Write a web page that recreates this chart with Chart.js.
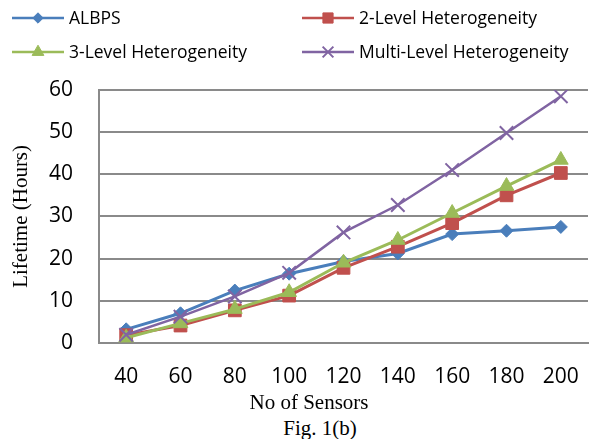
<!DOCTYPE html>
<html>
<head>
<meta charset="utf-8">
<script src="https://cdn.jsdelivr.net/npm/chart.js@4"></script>
<style>
  html, body { margin: 0; padding: 0; background: #fff; }
  #wrap { position: relative; width: 614px; height: 416px; }
  #legenda-fig { width: 588px; padding-left: 26px; height: 23px; line-height: 23px; text-align: center;
    font: 21px "Liberation Serif", "Times New Roman", serif; color: #000; }
</style>
</head>
<body>
<div id="wrap"><canvas id="grafico"></canvas></div>
<div id="legenda-fig">Fig. 1(b)</div>
<script>
"use strict";

// Dados (tempo de vida em horas x número de sensores)
const SENSORES = [40, 60, 80, 100, 120, 140, 160, 180, 200];
const ALBPS = [3.2, 7, 12.4, 16.4, 19.3, 21.2, 25.8, 26.6, 27.5];
const NIVEL2 = [1.8, 4.1, 7.7, 11.2, 17.8, 22.8, 28.4, 35, 40.3];
const NIVEL3 = [1.2, 4.6, 8, 12, 19, 24.4, 30.8, 37.2, 43.4];
const MULTI = [1.9, 6.2, 11, 16.6, 26.2, 32.7, 41, 49.8, 58.5];
const Y_TICKS = [0, 10, 20, 30, 40, 50, 60];

const CINZA = "#8a8a8a";

function serie(label, data, cor, estilo, raio, ordem, largura) {
  return {
    label, data, order: ordem,
    borderColor: cor, borderWidth: largura || 3,
    pointStyle: estilo, pointRadius: raio,
    pointBackgroundColor: cor, pointBorderColor: cor,
    pointBorderWidth: estilo === "crossRot" ? 2 : 1,
    tension: 0, fill: false,
  };
}

// Legenda em duas colunas, com linha + marcador, como no original
const legendaLinhas = {
  id: "legendaLinhas",
  afterDraw(chart) {
    const { ctx } = chart;
    const slots = [[12, 18], [302, 18], [12, 52], [302, 52]];
    chart.data.datasets.forEach((ds, i) => {
      const [x, y] = slots[i];
      ctx.save();
      ctx.strokeStyle = ds.borderColor;
      ctx.lineWidth = 2.5;
      ctx.beginPath(); ctx.moveTo(x, y); ctx.lineTo(x + 52, y); ctx.stroke();
      ctx.fillStyle = ds.pointBackgroundColor;
      ctx.strokeStyle = ds.pointBorderColor;
      ctx.lineWidth = ds.pointBorderWidth;
      Chart.helpers.drawPoint(ctx, { pointStyle: ds.pointStyle, radius: ds.pointRadius * 0.8,
        borderWidth: ds.pointBorderWidth, rotation: 0 }, x + 26, y);
      ctx.fillStyle = "#000";
      ctx.font = '17.5px "Open Sans"';
      ctx.textBaseline = "middle";
      ctx.fillText(ds.label, x + 57, y + 1);
      ctx.restore();
    });
  },
};

new Chart(document.getElementById("grafico"), {
  type: "line",
  data: {
    labels: SENSORES,
    datasets: [
      serie("ALBPS", ALBPS, "#4a7ebb", "rectRot", 6.5, 4),
      serie("2-Level Heterogeneity", NIVEL2, "#c0504d", "rect", 9, 3),
      serie("3-Level Heterogeneity", NIVEL3, "#9bbb59", "triangle", 8.5, 2),
      serie("Multi-Level Heterogeneity", MULTI, "#8064a2", "crossRot", 9.5, 1, 2.5),
    ],
  },
  options: {
    responsive: true,
    maintainAspectRatio: false,
    animation: false,
    layout: { padding: { top: 90, left: 4, right: 0, bottom: 0 } },
    plugins: {
      legend: { display: false },
      tooltip: { enabled: false },
      title: {
        display: true, position: "bottom", text: "No of Sensors", color: "#000",
        font: { family: '"Liberation Serif", serif', size: 21, weight: "normal" },
        padding: 0,
      },
    },
    scales: {
      x: {
        offset: true,
        grid: { display: false, drawTicks: false },
        border: { display: true, color: CINZA, width: 2 },
        ticks: { color: "#000", padding: 22, font: { family: '"Open Sans"', size: 21 } },
        afterFit(s) { s.height = 48; },
      },
      y: {
        min: 0, max: 60,
        afterBuildTicks(s) { s.ticks = Y_TICKS.map((v) => ({ value: v })); },
        grid: { color: CINZA, lineWidth: 2, drawTicks: false },
        border: { display: true, color: CINZA, width: 2 },
        ticks: { color: "#000", padding: 26, font: { family: '"Open Sans"', size: 21 } },
        title: {
          display: true, text: "Lifetime (Hours)", color: "#000",
          font: { family: '"Liberation Serif", serif', size: 21 },
          padding: { top: 5, bottom: 0 },
        },
        afterFit(s) { s.width = 95; },
      },
      y2: {
        position: "right",
        grid: { display: false, drawTicks: false },
        border: { display: false },
        ticks: { display: false },
        afterFit(s) { s.width = 26; },
      },
    },
  },
  plugins: [legendaLinhas],
});
</script>
</body>
</html>
